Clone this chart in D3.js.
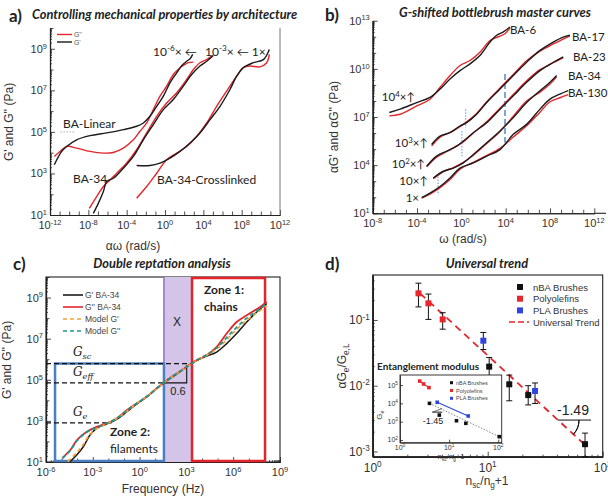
<!DOCTYPE html>
<html>
<head>
<meta charset="utf-8">
<script src="https://cdn.jsdelivr.net/npm/d3@7"></script>
<style>
body { margin: 0; background: #fff; }
svg { display: block; }
</style>
</head>
<body>
<script>
const W = 608, H = 498;

// ---------- panel a: [log10 aω, log10 G] ----------
const linearGp  = [[-11.55,3.42],[-10.78,4.06],[-10.26,4.30],[-9.22,4.62],[-7.83,4.82],[-6.09,4.95],[-4.35,5.11],[-2.96,5.27],[-2.26,5.43],[-1.57,5.75],[-0.87,6.23],[-0.17,6.72],[0.52,7.36],[1.22,7.84],[1.74,8.19],[2.26,8.40],[2.61,8.52],[2.89,8.73]];
const linearGpp = [[-11.55,3.82],[-10.96,4.06],[-10.26,4.30],[-9.22,4.22],[-7.83,4.06],[-6.43,3.98],[-5.39,4.01],[-4.35,4.22],[-3.30,4.62],[-2.61,5.03],[-1.91,5.43],[-1.22,6.07],[-0.52,6.72],[0.17,7.20],[0.87,7.76],[1.57,8.09],[2.09,8.25],[2.43,8.33],[2.96,8.36]];
const ba34Gp    = [[-7.48,1.08],[-6.96,1.56],[-6.43,2.13],[-6.09,2.61],[-5.39,2.77],[-4.35,3.25],[-3.30,3.82],[-2.26,4.62],[-1.22,5.35],[-0.17,6.07],[0.87,6.56],[1.91,7.20],[2.78,7.76],[3.65,8.17],[4.35,8.40],[5.04,8.68]];
const ba34Gpp   = [[-7.90,1.32],[-7.13,1.89],[-6.43,2.37],[-5.74,2.69],[-5.04,3.01],[-4.00,3.50],[-2.96,4.14],[-1.91,4.95],[-0.87,5.75],[0.17,6.39],[1.22,6.88],[2.26,7.52],[2.96,8.00],[3.65,8.33],[4.35,8.48],[4.97,8.68]];
const xlinkGp   = [[-2.96,3.38],[-1.57,3.38],[-0.52,3.50],[0.52,3.74],[1.57,4.06],[2.61,4.46],[3.65,4.95],[4.70,5.59],[5.74,6.23],[6.78,7.04],[7.48,7.68],[8.17,8.09],[9.22,8.33],[10.26,8.48],[10.89,8.97]];
const xlinkGpp  = [[-2.96,1.81],[-1.91,2.37],[-0.87,3.01],[0.17,3.66],[1.22,3.98],[2.26,4.30],[3.30,4.78],[4.35,5.43],[5.39,6.23],[6.43,6.96],[7.48,7.68],[8.17,8.09],[8.87,8.17],[9.91,8.13],[10.61,8.33],[10.89,8.73]];

// ---------- panel b: [log10 ω, log10 aG] ----------
const ba6Gp    = [[-6.50,7.28],[-5.53,7.49],[-4.03,7.90],[-2.83,8.22],[-1.92,8.74],[-1.02,9.37],[-0.12,9.89],[0.78,10.31],[1.68,10.83],[2.59,11.67],[3.19,12.09],[3.79,12.30],[4.39,12.61]];
const ba6Gpp   = [[-6.50,7.07],[-5.53,7.17],[-4.03,7.69],[-2.83,8.11],[-1.92,8.85],[-1.02,9.58],[-0.12,10.21],[0.78,10.52],[1.68,11.04],[2.59,11.77],[3.34,12.00],[3.94,12.19],[4.39,12.55]];
const ba17Gp   = [[-2.68,5.29],[-1.92,5.81],[-1.02,6.02],[-0.12,6.44],[0.48,6.65],[1.38,7.17],[2.29,7.90],[3.49,8.74],[4.69,9.58],[5.89,10.41],[7.10,11.15],[8.30,11.67],[9.20,11.98],[9.80,12.09]];
const ba17Gpp  = [[-2.68,5.20],[-1.92,5.75],[-1.02,6.05],[-0.12,6.40],[0.48,6.70],[1.38,7.22],[2.29,7.95],[3.49,8.80],[4.69,9.65],[5.89,10.50],[7.10,11.10],[8.30,11.55],[9.20,11.85],[9.80,12.05]];
const ba23Gp   = [[-3.13,3.93],[-2.23,4.56],[-1.32,4.87],[-0.42,5.18],[0.18,5.50],[1.08,6.02],[2.29,6.65],[3.49,7.49],[4.69,8.32],[5.89,9.16],[7.10,9.89],[8.30,10.41],[9.20,10.75]];
const ba23Gpp  = [[-3.13,3.90],[-2.23,4.50],[-1.32,4.85],[-0.42,5.20],[0.18,5.45],[1.08,6.00],[2.29,6.70],[3.49,7.55],[4.69,8.40],[5.89,9.25],[7.10,9.95],[8.30,10.38],[9.20,10.70]];
const ba34bGp  = [[-2.53,3.20],[-1.62,3.62],[-0.72,3.82],[0.18,4.14],[1.08,4.66],[2.29,5.39],[3.49,6.13],[4.69,6.96],[5.89,7.90],[7.10,8.64],[8.00,9.16],[8.60,9.58]];
const ba34bGpp = [[-2.53,3.15],[-1.62,3.60],[-0.72,3.85],[0.18,4.18],[1.08,4.62],[2.29,5.35],[3.49,6.10],[4.69,7.05],[5.89,8.00],[7.10,8.55],[8.00,9.05],[8.60,9.50]];
const ba130Gp  = [[-3.58,1.98],[-2.83,2.26],[-1.92,2.67],[-1.02,3.20],[-0.12,3.82],[1.08,4.14],[2.29,4.56],[3.49,4.97],[4.69,5.92],[5.89,6.54],[7.10,7.49],[8.00,8.11],[8.90,8.43],[9.65,8.64]];
const ba130Gpp = [[-3.58,1.95],[-2.83,2.20],[-1.92,2.60],[-1.02,3.10],[-0.12,3.75],[1.08,4.18],[2.29,4.60],[3.49,5.05],[4.69,5.75],[5.89,6.45],[7.10,7.30],[8.00,7.95],[8.90,8.20],[9.65,8.40]];
const bDashed  = [[3.94,9.68,5.39]];                                  // [x, yTop, yBottom]
const bDotted  = [[0.39,7.49,6.33],[0.05,6.13,4.56],[-2.10,3.30,2.15]];

// ---------- panel c: [log10 f, log10 G] ----------
const cGp      = [[-4.46,1.01],[-4.03,1.34],[-3.61,1.74],[-3.18,2.31],[-2.75,2.64],[-2.11,2.84],[-1.47,3.07],[-0.83,3.44],[-0.19,3.82],[0.45,4.17],[1.10,4.58],[1.74,4.95],[2.38,5.27],[3.02,5.63],[3.66,5.95],[4.30,6.15],[4.94,6.35],[5.58,6.76],[6.22,7.25],[6.87,7.81],[7.51,8.30],[8.15,8.70]];
const cGpp     = [[-4.95,1.20],[-4.40,1.62],[-4.03,2.05],[-3.39,2.47],[-2.75,2.71],[-2.11,2.88],[-1.47,3.12],[-0.83,3.52],[-0.19,3.85],[0.45,4.17],[1.10,4.58],[1.74,4.98],[2.38,5.31],[3.02,5.63],[3.66,5.95],[4.30,6.19],[4.94,6.60],[5.58,7.25],[6.22,7.81],[6.87,8.14],[7.72,8.54],[8.15,8.78]];
const cModelGp = [[-4.60,1.02],[-4.03,1.45],[-3.61,1.85],[-3.18,2.35],[-2.75,2.62],[-2.11,2.86],[-1.47,3.10],[-0.83,3.46],[-0.19,3.84],[0.45,4.18],[1.10,4.57],[1.74,4.96],[2.38,5.29],[3.02,5.62],[3.66,5.93],[4.30,6.20],[4.94,6.50],[5.58,6.95],[6.22,7.45],[6.87,7.90],[7.51,8.25],[8.15,8.60]];
const cModelGpp= [[-4.95,1.18],[-4.40,1.60],[-4.03,2.02],[-3.39,2.45],[-2.75,2.68],[-2.11,2.88],[-1.47,3.12],[-0.83,3.50],[-0.19,3.85],[0.45,4.17],[1.10,4.58],[1.74,4.97],[2.38,5.30],[3.02,5.62],[3.66,5.94],[4.30,6.22],[4.94,6.55],[5.58,7.05],[6.22,7.55],[6.87,8.00],[7.51,8.35],[8.15,8.72]];
const cLevels  = [["sc",5.79,3.36],["eff",4.85,1.56],["e",2.90,-1.80]];  // [name, log10 G, dashed line end]
const cZones   = [-5.42, 1.56, 3.36, 8.04];                           // blue left, purple left, red left, red right

// ---------- panel d: {x, y, lo, hi} ----------
const nbaPts  = [{x:10.3,y:0.0195,lo:0.0138,hi:0.0269},{x:15.4,y:0.0105,lo:0.0059,hi:0.0145},{x:22.5,y:0.0072,lo:0.0051,hi:0.0100},{x:70.2,y:0.00129,lo:0.00074,hi:0.0019}];
const polyPts = [{x:2.5,y:0.254,lo:0.158,hi:0.363},{x:3.05,y:0.179,lo:0.102,hi:0.248},{x:4.06,y:0.102,lo:0.0724,hi:0.129}];
const plaPts  = [{x:9.16,y:0.0484,lo:0.0355,hi:0.0646},{x:25.8,y:0.00832,lo:0.00537,hi:0.011}];
const trendEnds = [[2.58,0.254],[67.8,0.00133]];
const insetNba  = [[0.60,4.00],[0.80,3.36],[1.15,3.05],[1.34,2.91],[2.02,2.18]];
const insetPoly = [[0.40,5.22],[0.48,5.06],[0.59,4.86]];
const insetPla  = [[0.757,4.06],[1.388,3.31]];

const svg = d3.select("body").append("svg").attr("width", W).attr("height", H);
const SANS = "'Liberation Sans', Arial, sans-serif";
const HUM = "Lato, 'Open Sans', sans-serif";

const p10 = v => Math.pow(10, v);

function rich(t, parts, fs) {
  // parts: [text, mode] with mode 0 normal, 1 super, -1 sub
  let shift = 0;
  parts.forEach(([s, mode]) => {
    const target = mode === 1 ? -fs * 0.38 : mode === -1 ? fs * 0.28 : 0;
    const ts = t.append("tspan").text(s);
    if (target !== shift) { ts.attr("dy", target - shift); shift = target; }
    if (mode) ts.attr("font-size", fs * 0.68);
  });
  return t;
}

function txt(x, y, fs, family, opts = {}) {
  const t = svg.append("text").attr("x", x).attr("y", y).attr("font-size", fs).attr("font-family", family)
    .attr("fill", opts.fill || "#222");
  if (opts.anchor) t.attr("text-anchor", opts.anchor);
  if (opts.weight) t.attr("font-weight", opts.weight);
  if (opts.italic) t.attr("font-style", "italic");
  if (opts.rotate) t.attr("transform", `rotate(-90,${x},${y})`);
  return t;
}

function tickSet(dom, isLabel) {
  const lo = Math.log10(dom[0]), hi = Math.log10(dom[1]);
  const major = [], mid = [], minor = [];
  for (let e = Math.floor(lo); e <= Math.ceil(hi); e++) {
    if (e >= lo - 1e-6 && e <= hi + 1e-6) (isLabel(e) ? major : mid).push(p10(e));
    for (let m = 2; m < 10; m++) {
      const lw = Math.log10(m) + e;
      if (lw > lo && lw < hi) minor.push(p10(lw));
    }
  }
  return { major, mid, minor };
}

function logPanel(o) {
  const x = d3.scaleLog().domain(o.xd).range(o.xr);
  const y = d3.scaleLog().domain(o.yd).range(o.yr);
  const g = svg.append("g");
  const xt = tickSet(o.xd, o.xlab), yt = tickSet(o.yd, o.ylab);
  const fs = o.fs || 11;
  const axB = (vals, s) => g.append("g").attr("transform", `translate(0,${o.yr[0]})`)
    .call(d3.axisBottom(x).tickValues(vals).tickSize(-s).tickSizeOuter(0).tickFormat(""));
  const axL = (vals, s) => g.append("g").attr("transform", `translate(${o.xr[0]},0)`)
    .call(d3.axisLeft(y).tickValues(vals).tickSize(-s).tickSizeOuter(0).tickFormat(""));
  axB(xt.major, 5); axB(xt.mid, 3.5); if (o.xminor) axB(xt.minor, 2);
  axL(yt.major, 5); axL(yt.mid, 3.5); if (o.yminor) axL(yt.minor, 2);
  g.selectAll(".domain").attr("stroke", "#222").attr("stroke-width", 1.1);
  g.selectAll(".tick line").attr("stroke", "#222").attr("stroke-width", 0.8);
  if (o.box) {
    g.append("rect").attr("x", o.xr[0]).attr("y", o.yr[1]).attr("width", o.xr[1] - o.xr[0])
      .attr("height", o.yr[0] - o.yr[1]).attr("fill", "none").attr("stroke", o.boxColor || "#222").attr("stroke-width", 1.1);
  }
  xt.major.forEach(v => {
    const t = g.append("text").attr("x", x(v)).attr("y", o.yr[0] + fs + 3).attr("text-anchor", "middle")
      .attr("font-size", fs).attr("font-family", SANS).attr("fill", "#333");
    rich(t, [["10", 0], [String(Math.round(Math.log10(v))), 1]], fs);
  });
  yt.major.forEach(v => {
    const t = g.append("text").attr("x", o.xr[0] - 3).attr("y", y(v) + fs * 0.36).attr("text-anchor", "end")
      .attr("font-size", fs).attr("font-family", SANS).attr("fill", "#333");
    rich(t, [["10", 0], [String(Math.round(Math.log10(v))), 1]], fs);
  });
  return { g, x, y };
}

function curve(P, data, color, w, dash) {
  const ln = d3.line().x(d => P.x(p10(d[0]))).y(d => P.y(p10(d[1]))).curve(d3.curveCatmullRom.alpha(0.5));
  const p = P.g.append("path").attr("d", ln(data)).attr("fill", "none").attr("stroke", color)
    .attr("stroke-width", w).attr("stroke-linejoin", "round");
  if (dash) p.attr("stroke-dasharray", dash);
  return p;
}

const RED = "#e3262b", BLK = "#1b1b1b";
const TITLE = 12.8;

// ======================= panel a =======================
const A = logPanel({ xd: [1e-12, 1e12], xr: [50, 280], yd: [1e1, 1e10], yr: [215, 28],
  xlab: e => e % 4 === 0, ylab: e => Math.abs(e % 2) === 1, yminor: true });
A.g.append("line").attr("x1", 280).attr("x2", 280).attr("y1", 28).attr("y2", 215).attr("stroke", "#777").attr("stroke-width", 1);
A.g.append("line").attr("x1", A.x(p10(-10.9))).attr("x2", A.x(p10(-9.4))).attr("y1", A.y(1e5)).attr("y2", A.y(1e5))
  .attr("stroke", "#999").attr("stroke-width", 0.8).attr("stroke-dasharray", "1.5,1.5");
[[linearGpp, linearGp], [ba34Gpp, ba34Gp], [xlinkGpp, xlinkGp]].forEach(([r, b]) => {
  curve(A, r, RED, 1.4); curve(A, b, BLK, 1.4);
});
// legend a
A.g.append("line").attr("x1", 57).attr("x2", 72).attr("y1", 34.5).attr("y2", 34.5).attr("stroke", RED).attr("stroke-width", 1.4);
A.g.append("line").attr("x1", 57).attr("x2", 72).attr("y1", 42).attr("y2", 42).attr("stroke", BLK).attr("stroke-width", 1.4);
txt(74, 37, 6.8, SANS, { fill: "#555" }).text("G''");
txt(74, 44.5, 6.8, SANS, { fill: "#555" }).text("G'");
txt(63, 128, 12, HUM).text("BA-Linear");
txt(73, 183, 12, HUM).text("BA-34");
txt(157, 184, 12, HUM).text("BA-34-Crosslinked");
rich(txt(153, 56, 12, HUM), [["10", 0], ["-6", 1], ["× ←", 0]], 12);
rich(txt(205, 56, 12, HUM), [["10", 0], ["-3", 1], ["× ← 1×", 0]], 12);
txt(9, 22, 17, HUM, { weight: "bold" }).text("a)");
txt(32, 19, TITLE, HUM, { weight: "bold", italic: true }).text("Controlling mechanical properties by architecture");
txt(13, 122, 12, SANS, { anchor: "middle", rotate: true, fill: "#333" }).text("G' and G'' (Pa)");
txt(133, 250, 12, SANS, { anchor: "middle", fill: "#333" }).text("αω (rad/s)");

// ======================= panel b =======================
const B = logPanel({ xd: [1e-8, 1e12], xr: [372.7, 594.3], yd: [1e1, 1e13], yr: [213.3, 20.7],
  xlab: e => e % 4 === 0, ylab: e => (e - 1) % 3 === 0, yminor: true });
B.g.append("line").attr("x1", 594.3).attr("x2", 606).attr("y1", 213.3).attr("y2", 213.3).attr("stroke", "#222").attr("stroke-width", 1.1);
bDotted.forEach(d => B.g.append("line").attr("x1", B.x(p10(d[0]))).attr("x2", B.x(p10(d[0])))
  .attr("y1", B.y(p10(d[1]))).attr("y2", B.y(p10(d[2]))).attr("stroke", "#7fb0e0").attr("stroke-width", 1.3).attr("stroke-dasharray", "1.5,1.5"));
bDashed.forEach(d => B.g.append("line").attr("x1", B.x(p10(d[0]))).attr("x2", B.x(p10(d[0])))
  .attr("y1", B.y(p10(d[1]))).attr("y2", B.y(p10(d[2]))).attr("stroke", "#3a78c0").attr("stroke-width", 1.3).attr("stroke-dasharray", "6,3"));
[[ba6Gpp, ba6Gp], [ba17Gpp, ba17Gp], [ba23Gpp, ba23Gp], [ba34bGpp, ba34bGp], [ba130Gpp, ba130Gp]].forEach(([r, b]) => {
  curve(B, r, RED, 1.4); curve(B, b, BLK, 1.4);
});
txt(510, 34, 11.5, HUM).text("BA-6");
txt(572, 41, 11.5, HUM).text("BA-17");
txt(573, 61, 11.5, HUM).text("BA-23");
txt(568, 80, 11.5, HUM).text("BA-34");
txt(568, 97, 11.5, HUM).text("BA-130");
rich(txt(415, 101, 11.5, HUM, { anchor: "end" }), [["10", 0], ["4", 1], ["×↑", 0]], 11.5);
rich(txt(428, 147, 11.5, HUM, { anchor: "end" }), [["10", 0], ["3", 1], ["×↑", 0]], 11.5);
rich(txt(425, 168, 11.5, HUM, { anchor: "end" }), [["10", 0], ["2", 1], ["×↑", 0]], 11.5);
txt(428, 185, 11.5, HUM, { anchor: "end" }).text("10×↑");
txt(419, 202, 11.5, HUM, { anchor: "end" }).text("1×");
txt(325, 21, 17, HUM, { weight: "bold" }).text("b)");
txt(495, 17, TITLE, HUM, { weight: "bold", italic: true, anchor: "middle" }).text("G-shifted bottlebrush master curves");
rich(txt(338, 127, 12, SANS, { anchor: "middle", rotate: true, fill: "#333" }), [["αG' and αG'' (Pa)", 0]], 12);
txt(463, 243, 12, SANS, { anchor: "middle", fill: "#333" }).text("ω (rad/s)");

// ======================= panel c =======================
const C = logPanel({ xd: [1e-6, 1e9], xr: [46, 280], yd: [1e1, 1e10], yr: [462, 277],
  xlab: e => e % 3 === 0, ylab: e => Math.abs(e % 2) === 1, xminor: true, yminor: true, box: true });
const cx = v => C.x(p10(v)), cy = v => C.y(p10(v));
C.g.append("rect").attr("x", cx(cZones[1])).attr("y", cy(10)).attr("width", cx(cZones[2]) - cx(cZones[1]))
  .attr("height", cy(1) - cy(10)).attr("fill", "#d4c4e8");
C.g.append("line").attr("x1", cx(cZones[1])).attr("x2", cx(cZones[1])).attr("y1", cy(10)).attr("y2", cy(1))
  .attr("stroke", "#8f6fc8").attr("stroke-width", 1.5);
C.g.append("rect").attr("x", cx(cZones[0])).attr("y", cy(cLevels[0][1])).attr("width", cx(cZones[1]) - cx(cZones[0]))
  .attr("height", cy(1) - cy(cLevels[0][1]) - 1).attr("fill", "none").attr("stroke", "#4a7fc1").attr("stroke-width", 2.5);
C.g.append("rect").attr("x", cx(cZones[2])).attr("y", cy(10) + 1).attr("width", cx(cZones[3]) - cx(cZones[2]))
  .attr("height", cy(1) - cy(10) - 2).attr("fill", "none").attr("stroke", "#e5232b").attr("stroke-width", 2.5);
cLevels.forEach(l => C.g.append("line").attr("x1", cx(-6)).attr("x2", cx(l[2])).attr("y1", cy(l[1])).attr("y2", cy(l[1]))
  .attr("stroke", "#111").attr("stroke-width", 1.3).attr("stroke-dasharray", "5,3"));
// slope triangle
C.g.append("path").attr("d", `M${cx(1.56)},${cy(4.85)}H${cx(3.02)}V${cy(5.71)}`).attr("fill", "none").attr("stroke", "#111").attr("stroke-width", 1.1);
curve(C, cGp, BLK, 1.5);
curve(C, cGpp, RED, 1.8);
curve(C, cModelGp, "#f4a23a", 1.8, "4,3");
curve(C, cModelGpp, "#1a9a8c", 1.8, "4,3");
// legend c
[["G' BA-34", BLK, null], ["G'' BA-34", RED, null], ["Model G'", "#f4a23a", "4,3"], ["Model G''", "#1a9a8c", "4,3"]].forEach((d, i) => {
  const yy = 295 + i * 12;
  const l = C.g.append("line").attr("x1", 63).attr("x2", 83).attr("y1", yy).attr("y2", yy).attr("stroke", d[1]).attr("stroke-width", 1.6);
  if (d[2]) l.attr("stroke-dasharray", d[2]);
  txt(85, yy + 3, 8.5, SANS, { fill: "#444" }).text(d[0]);
});
const SERIF = "'DejaVu Serif', 'Liberation Serif', serif";
rich(txt(73, 356, 12, SERIF, { italic: true }), [["G", 0], ["sc", -1]], 12);
rich(txt(73, 376, 12, SERIF, { italic: true }), [["G", 0], ["eff", -1]], 12);
rich(txt(73, 416, 12, SERIF, { italic: true }), [["G", 0], ["e", -1]], 12);
txt(178, 395, 11, SANS, { anchor: "middle" }).text("0.6");
txt(177, 326, 12, SANS, { anchor: "middle" }).text("X");
txt(204, 294, 12, HUM, { weight: "bold" }).text("Zone 1:");
txt(204, 311, 12, HUM, { weight: "bold" }).text("chains");
txt(110, 436, 12, HUM, { weight: "bold" }).text("Zone 2:");
txt(110, 453, 12, HUM).text("filaments");
txt(13, 270, 17, HUM, { weight: "bold" }).text("c)");
txt(162, 268, TITLE, HUM, { weight: "bold", italic: true, anchor: "middle" }).text("Double reptation analysis");
txt(11, 360, 12, SANS, { anchor: "middle", rotate: true, fill: "#333" }).text("G' and G'' (Pa)");
txt(163, 493, 12, SANS, { anchor: "middle", fill: "#333" }).text("Frequency (Hz)");

// ======================= panel d =======================
const D = logPanel({ xd: [1, 100], xr: [372.7, 602.7], yd: [p10(-3.08), p10(-0.316)], yr: [456.7, 275],
  xlab: () => true, ylab: () => true, xminor: true, yminor: true, box: true, fs: 12 });
D.g.append("path").attr("d", d3.line().x(d => D.x(d[0])).y(d => D.y(d[1]))(trendEnds))
  .attr("stroke", RED).attr("stroke-width", 1.8).attr("stroke-dasharray", "7,5").attr("fill", "none");
[[nbaPts, "#111"], [polyPts, "#e8262b"], [plaPts, "#2f45e0"]].forEach(([pts, col]) => {
  pts.forEach(p => {
    const xx = D.x(p.x), lo = Math.min(D.y(p.lo), 456.7);
    D.g.append("path").attr("d", `M${xx - 3},${D.y(p.hi)}H${xx + 3}M${xx},${D.y(p.hi)}V${lo}M${xx - 3},${lo}H${xx + 3}`)
      .attr("stroke", "#111").attr("stroke-width", 1).attr("fill", "none");
  });
  D.g.selectAll(null).data(pts).join("rect").attr("x", p => D.x(p.x) - 3).attr("y", p => D.y(p.y) - 3)
    .attr("width", 6).attr("height", 6).attr("fill", col);
});
// -1.49 annotation
{
  const [a0, a1] = trendEnds.map(d => [D.x(d[0]), D.y(d[1])]);
  const yh = D.y(0.0030), k = (a1[1] - a0[1]) / (a1[0] - a0[0]);
  const xi = a0[0] + (yh - a0[1]) / k;
  D.g.append("line").attr("x1", xi).attr("x2", xi + 33).attr("y1", yh).attr("y2", yh).attr("stroke", "#111").attr("stroke-width", 1);
  const th = Math.atan(k);
  D.g.append("path").attr("transform", `translate(${xi},${yh})`)
    .attr("d", d3.arc()({ innerRadius: 21, outerRadius: 21, startAngle: Math.PI / 2, endAngle: Math.PI / 2 + th }))
    .attr("fill", "none").attr("stroke", "#111").attr("stroke-width", 1);
  txt(xi + 15, yh - 5, 14, SANS, { anchor: "middle" }).text("-1.49");
}
// legend d
[["nBA Brushes", "#111"], ["Polyolefins", "#e8262b"], ["PLA Brushes", "#2f45e0"]].forEach((d, i) => {
  const yy = 287 + i * 11.7;
  D.g.append("rect").attr("x", 517).attr("y", yy - 3).attr("width", 6).attr("height", 6).attr("fill", d[1]);
  txt(533, yy + 3.5, 9.5, SANS, { fill: "#333" }).text(d[0]);
});
D.g.append("line").attr("x1", 509).attr("x2", 529).attr("y1", 322).attr("y2", 322).attr("stroke", RED).attr("stroke-width", 1.6).attr("stroke-dasharray", "6,3");
txt(533, 325.5, 9.5, SANS, { fill: "#333" }).text("Universal Trend");

// inset
txt(377, 370, 10, HUM, { weight: "bold" }).text("Entanglement modulus");
const I = { g: svg.append("g") };
I.x = d3.scaleLog().domain([1, p10(2.07)]).range([400, 501.7]);
I.y = d3.scaleLog().domain([p10(1.85), p10(5.55)]).range([442.7, 375]);
I.g.append("rect").attr("x", 400).attr("y", 375).attr("width", 101.7).attr("height", 67.7).attr("fill", "#fff").attr("stroke", "#222").attr("stroke-width", 0.9);
I.g.append("g").attr("transform", "translate(0,442.7)").call(d3.axisBottom(I.x).tickValues([1, 10, 100]).tickSize(-3).tickSizeOuter(0).tickFormat(""));
I.g.append("g").attr("transform", "translate(400,0)").call(d3.axisLeft(I.y).tickValues([1e2, 1e3, 1e4, 1e5]).tickSize(-3).tickSizeOuter(0).tickFormat(""));
I.g.selectAll(".domain, .tick line").attr("stroke", "#222").attr("stroke-width", 0.8);
[0, 1, 2].forEach(e => rich(txt(I.x(p10(e)), 449.5, 7, SANS, { anchor: "middle", fill: "#333" }), [["10", 0], [String(e), 1]], 7));
[2, 3, 4, 5].forEach(e => rich(txt(398, I.y(p10(e)) + 2.5, 7, SANS, { anchor: "end", fill: "#333" }), [["10", 0], [String(e), 1]], 7));
const il = d3.line().x(d => I.x(p10(d[0]))).y(d => I.y(p10(d[1])));
I.g.append("path").attr("d", il([insetNba[0], insetNba[insetNba.length - 1]])).attr("stroke", "#777").attr("stroke-width", 0.9).attr("stroke-dasharray", "1.5,1.5").attr("fill", "none");
I.g.append("path").attr("d", il(insetPoly)).attr("stroke", RED).attr("stroke-width", 1.1).attr("fill", "none");
I.g.append("path").attr("d", il(insetPla)).attr("stroke", "#2f45e0").attr("stroke-width", 1.1).attr("fill", "none");
[[insetNba, "#111"], [insetPoly, "#e8262b"], [insetPla, "#2f45e0"]].forEach(([pts, col]) => {
  I.g.selectAll(null).data(pts).join("rect").attr("x", d => I.x(p10(d[0])) - 1.8).attr("y", d => I.y(p10(d[1])) - 1.8)
    .attr("width", 3.6).attr("height", 3.6).attr("fill", col);
});
I.g.append("path").attr("d", `M${I.x(p10(0.66))},${I.y(p10(3.52))}H${I.x(p10(0.86))}L${I.x(p10(0.66))},${I.y(p10(3.52))}L${I.x(p10(0.86))},${I.y(p10(3.72))}`)
  .attr("stroke", "#333").attr("stroke-width", 0.7).attr("fill", "none");
txt(433, 424, 9, SANS, { anchor: "middle" }).text("-1.45");
[["nBA Brushes", "#111"], ["Polyolefins", "#e8262b"], ["PLA Brushes", "#2f45e0"]].forEach((d, i) => {
  const yy = 382.7 + i * 7.8;
  I.g.append("rect").attr("x", 450).attr("y", yy - 1.5).attr("width", 3).attr("height", 3).attr("fill", d[1]);
  txt(456, yy + 2, 5.5, SANS, { fill: "#444" }).text(d[0]);
});
rich(txt(382, 415, 8, SANS, { anchor: "middle", rotate: true, fill: "#333" }), [["G", 0], ["e", -1]], 8);
rich(txt(451, 459, 7.5, SANS, { anchor: "middle", fill: "#333" }), [["n", 0], ["sc", -1], ["/n", 0], ["g", -1], ["+1", 0]], 7.5);

txt(325, 270, 17, HUM, { weight: "bold" }).text("d)");
txt(487, 268, TITLE, HUM, { weight: "bold", italic: true, anchor: "middle" }).text("Universal trend");
rich(txt(346, 366, 12, SANS, { anchor: "middle", rotate: true, fill: "#333" }), [["αG", 0], ["e", -1], ["/G", 0], ["e,L", -1]], 12);
rich(txt(487, 485, 12, SANS, { anchor: "middle", fill: "#333" }), [["n", 0], ["sc", -1], ["/n", 0], ["g", -1], ["+1", 0]], 12);
</script>
</body>
</html>
